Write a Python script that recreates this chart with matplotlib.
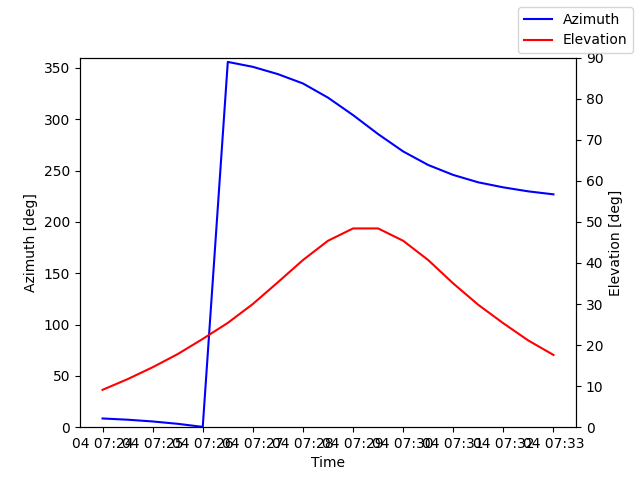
import numpy as np
import pandas as pd
import matplotlib
matplotlib.use("Agg")
import matplotlib.pyplot as plt
import matplotlib.dates as mdates

#%%
times = pd.date_range("2023-06-04 07:24:00", "2023-06-04 07:33:00", freq="30s")
azimuth = [8.5, 7.3, 5.6, 3.3, 0.3, 355.8, 351.0, 343.9, 334.8, 321.0, 304.0,
           285.5, 268.6, 255.4, 245.7, 238.5, 233.6, 229.7, 226.8]
elevation = [9.1, 11.7, 14.6, 17.8, 21.5, 25.4, 30.0, 35.3, 40.7, 45.4, 48.4,
             48.4, 45.4, 40.7, 35.0, 29.8, 25.3, 21.1, 17.6]

#%%
fig, ax = plt.subplots(figsize=(6.4, 4.8), dpi=100)
ax.plot(times, azimuth, color="blue", label="Azimuth")
ax.set_xlabel("Time")
ax.set_ylabel("Azimuth [deg]")
ax.set_ylim(0, 360)
ax.xaxis.set_major_locator(mdates.MinuteLocator())
ax.xaxis.set_major_formatter(mdates.DateFormatter("%d %H:%M"))

ax2 = ax.twinx()
ax2.plot(times, elevation, color="red", label="Elevation")
ax2.set_ylabel("Elevation [deg]")
ax2.set_ylim(0, 90)

fig.legend(loc="upper right")
fig.savefig("out.png")
